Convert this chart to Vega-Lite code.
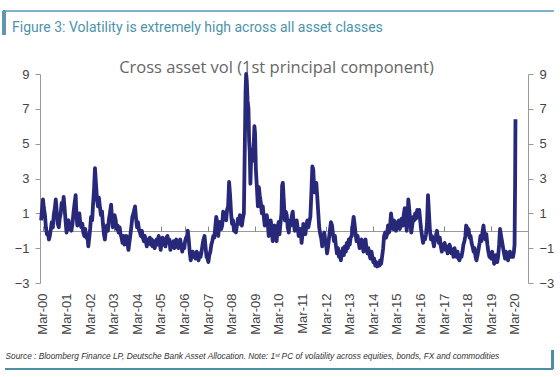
{
  "$schema": "https://vega.github.io/schema/vega-lite/v6.json",
  "width": 488,
  "height": 209,
  "autosize": {"type": "none"},
  "padding": {"left": 40, "top": 74, "right": 32, "bottom": 94},
  "background": "white",
  "title": {
    "text": "Figure 3: Volatility is extremely high across all asset classes",
    "anchor": "start",
    "frame": "group",
    "dx": -28,
    "dy": 29.5,
    "font": "Roboto",
    "fontSize": 14,
    "fontWeight": "normal",
    "color": "#4d93ab"
  },
  "config": {
    "view": {"stroke": null},
    "axis": {"labelFont": "Liberation Sans", "titleFont": "Liberation Sans"}
  },
  "data": {"values": [
    {"date":"2000-02-01","v":0.6},{"date":"2000-02-15","v":1.2},{"date":"2000-03-01","v":1.8},{"date":"2000-03-15","v":1.3},
    {"date":"2000-04-01","v":0.9},{"date":"2000-04-15","v":0.2},{"date":"2000-05-01","v":-0.2},{"date":"2000-05-15","v":-0.1},
    {"date":"2000-06-01","v":-0.5},{"date":"2000-06-15","v":-0.3},{"date":"2000-07-01","v":0.1},{"date":"2000-07-15","v":0.5},
    {"date":"2000-08-01","v":0.2},{"date":"2000-08-15","v":0.9},{"date":"2000-09-01","v":1.3},{"date":"2000-09-15","v":1.8},
    {"date":"2000-10-01","v":1.1},{"date":"2000-10-15","v":0.4},{"date":"2000-11-01","v":0.2},{"date":"2000-11-15","v":0.7},
    {"date":"2000-12-01","v":1.0},{"date":"2000-12-15","v":1.6},{"date":"2001-01-01","v":1.3},{"date":"2001-01-15","v":1.95},
    {"date":"2001-02-01","v":1.2},{"date":"2001-02-15","v":0.5},{"date":"2001-03-01","v":-0.1},{"date":"2001-03-15","v":0.3},
    {"date":"2001-04-01","v":0.6},{"date":"2001-04-15","v":0.1},{"date":"2001-05-01","v":0.3},{"date":"2001-05-15","v":0.0},
    {"date":"2001-06-01","v":0.4},{"date":"2001-06-15","v":1.0},{"date":"2001-07-01","v":1.5},{"date":"2001-07-20","v":2.05},
    {"date":"2001-08-01","v":0.9},{"date":"2001-08-15","v":0.3},{"date":"2001-09-01","v":0.8},{"date":"2001-09-15","v":1.0},
    {"date":"2001-10-01","v":0.4},{"date":"2001-10-15","v":0.2},{"date":"2001-11-01","v":0.4},{"date":"2001-11-15","v":-0.1},
    {"date":"2001-12-01","v":-0.3},{"date":"2001-12-15","v":0.1},{"date":"2002-01-01","v":-0.4},{"date":"2002-01-15","v":-0.2},
    {"date":"2002-02-01","v":-0.9},{"date":"2002-02-15","v":-0.4},{"date":"2002-03-01","v":0.1},{"date":"2002-03-15","v":0.8},
    {"date":"2002-04-01","v":0.6},{"date":"2002-04-15","v":1.5},{"date":"2002-05-01","v":2.4},{"date":"2002-05-15","v":3.6},
    {"date":"2002-06-01","v":2.6},{"date":"2002-06-15","v":1.8},{"date":"2002-07-01","v":1.4},{"date":"2002-07-15","v":1.9},
    {"date":"2002-08-01","v":1.3},{"date":"2002-08-15","v":0.9},{"date":"2002-09-01","v":1.1},{"date":"2002-09-15","v":0.4},
    {"date":"2002-10-01","v":-0.2},{"date":"2002-10-15","v":-0.5},{"date":"2002-11-01","v":0.1},{"date":"2002-11-15","v":0.3},
    {"date":"2002-12-01","v":0.0},{"date":"2002-12-15","v":0.6},{"date":"2003-01-01","v":1.0},{"date":"2003-01-20","v":1.5},
    {"date":"2003-02-01","v":0.8},{"date":"2003-02-15","v":0.2},{"date":"2003-03-01","v":0.5},{"date":"2003-03-15","v":0.9},
    {"date":"2003-04-01","v":0.6},{"date":"2003-04-15","v":0.1},{"date":"2003-05-01","v":0.3},{"date":"2003-05-15","v":-0.1},
    {"date":"2003-06-01","v":0.2},{"date":"2003-06-15","v":-0.2},{"date":"2003-07-01","v":-0.4},{"date":"2003-07-15","v":-0.7},
    {"date":"2003-08-01","v":-0.3},{"date":"2003-08-15","v":-0.8},{"date":"2003-09-01","v":-0.5},{"date":"2003-09-15","v":-0.3},
    {"date":"2003-10-01","v":-0.7},{"date":"2003-10-15","v":-1.1},{"date":"2003-11-01","v":-0.6},{"date":"2003-11-15","v":-0.2},
    {"date":"2003-12-01","v":0.3},{"date":"2003-12-15","v":0.8},{"date":"2004-01-01","v":1.0},{"date":"2004-01-25","v":1.4},
    {"date":"2004-02-10","v":0.7},{"date":"2004-02-25","v":0.2},{"date":"2004-03-10","v":0.5},{"date":"2004-03-25","v":0.1},
    {"date":"2004-04-10","v":-0.1},{"date":"2004-04-25","v":-0.3},{"date":"2004-05-10","v":0.0},{"date":"2004-05-25","v":-0.4},
    {"date":"2004-06-10","v":-0.6},{"date":"2004-06-25","v":-0.3},{"date":"2004-07-10","v":-0.6},{"date":"2004-07-25","v":-0.9},
    {"date":"2004-08-10","v":-0.5},{"date":"2004-08-25","v":-0.7},{"date":"2004-09-10","v":-0.4},{"date":"2004-09-25","v":-0.8},
    {"date":"2004-10-10","v":-0.5},{"date":"2004-10-25","v":-0.9},{"date":"2004-11-10","v":-0.6},{"date":"2004-11-25","v":-1.0},
    {"date":"2004-12-10","v":-0.7},{"date":"2004-12-25","v":-0.5},{"date":"2005-01-10","v":-0.8},{"date":"2005-01-25","v":-0.3},
    {"date":"2005-02-10","v":-0.6},{"date":"2005-02-25","v":-1.1},{"date":"2005-03-10","v":-0.7},{"date":"2005-03-25","v":-0.4},
    {"date":"2005-04-10","v":-0.8},{"date":"2005-04-25","v":-0.5},{"date":"2005-05-10","v":-0.9},{"date":"2005-05-25","v":-0.4},
    {"date":"2005-06-10","v":-0.3},{"date":"2005-06-25","v":-0.7},{"date":"2005-07-10","v":-0.5},{"date":"2005-07-25","v":-1.1},
    {"date":"2005-08-10","v":-0.7},{"date":"2005-08-25","v":-0.9},{"date":"2005-09-10","v":-0.6},{"date":"2005-09-25","v":-1.0},
    {"date":"2005-10-10","v":-0.7},{"date":"2005-10-25","v":-0.5},{"date":"2005-11-10","v":-0.9},{"date":"2005-11-25","v":-1.0},
    {"date":"2005-12-10","v":-0.7},{"date":"2005-12-25","v":-0.5},{"date":"2006-01-10","v":-0.9},{"date":"2006-01-25","v":-1.2},
    {"date":"2006-02-10","v":-0.8},{"date":"2006-02-25","v":-1.0},{"date":"2006-03-10","v":-0.6},{"date":"2006-03-25","v":-0.4},
    {"date":"2006-04-10","v":-0.3},{"date":"2006-04-20","v":0.0},{"date":"2006-05-05","v":-0.5},{"date":"2006-05-20","v":-1.2},
    {"date":"2006-06-05","v":-1.7},{"date":"2006-06-20","v":-1.4},{"date":"2006-07-05","v":-1.2},{"date":"2006-07-20","v":-1.5},
    {"date":"2006-08-05","v":-1.3},{"date":"2006-08-20","v":-1.6},{"date":"2006-09-05","v":-1.2},{"date":"2006-09-20","v":-1.4},
    {"date":"2006-10-05","v":-1.7},{"date":"2006-10-20","v":-1.3},{"date":"2006-11-05","v":-1.5},{"date":"2006-11-20","v":-1.2},
    {"date":"2006-12-05","v":-0.8},{"date":"2006-12-20","v":-0.5},{"date":"2007-01-05","v":-0.3},{"date":"2007-01-20","v":-0.9},
    {"date":"2007-02-05","v":-1.5},{"date":"2007-02-20","v":-1.6},{"date":"2007-03-05","v":-1.8},{"date":"2007-03-20","v":-1.4},
    {"date":"2007-04-05","v":-1.2},{"date":"2007-04-20","v":-0.8},{"date":"2007-05-05","v":-0.6},{"date":"2007-05-20","v":-0.3},
    {"date":"2007-06-05","v":-0.4},{"date":"2007-06-20","v":0.2},{"date":"2007-07-05","v":0.8},{"date":"2007-07-20","v":0.5},
    {"date":"2007-08-05","v":-0.3},{"date":"2007-08-20","v":0.3},{"date":"2007-09-05","v":0.5},{"date":"2007-09-20","v":0.1},
    {"date":"2007-10-05","v":0.3},{"date":"2007-10-20","v":1.1},{"date":"2007-11-05","v":0.8},{"date":"2007-11-20","v":1.0},
    {"date":"2007-12-05","v":0.6},{"date":"2007-12-20","v":1.2},{"date":"2008-01-05","v":1.4},{"date":"2008-01-20","v":2.8},
    {"date":"2008-02-05","v":2.0},{"date":"2008-02-20","v":1.0},{"date":"2008-03-05","v":0.4},{"date":"2008-03-20","v":0.6},
    {"date":"2008-04-05","v":0.0},{"date":"2008-04-20","v":0.2},{"date":"2008-05-05","v":-0.1},{"date":"2008-05-20","v":0.3},
    {"date":"2008-06-05","v":0.7},{"date":"2008-06-20","v":0.4},{"date":"2008-07-05","v":0.9},{"date":"2008-07-20","v":0.6},
    {"date":"2008-08-05","v":0.3},{"date":"2008-08-20","v":0.7},{"date":"2008-09-05","v":1.0},{"date":"2008-09-18","v":4.5},
    {"date":"2008-10-01","v":8.0},{"date":"2008-10-10","v":9.0},{"date":"2008-10-20","v":8.6},{"date":"2008-11-01","v":7.5},
    {"date":"2008-11-15","v":7.0},{"date":"2008-11-25","v":5.2},{"date":"2008-12-05","v":4.5},{"date":"2008-12-15","v":2.7},
    {"date":"2008-12-25","v":4.0},{"date":"2009-01-05","v":4.65},{"date":"2009-01-15","v":4.0},{"date":"2009-01-25","v":4.3},
    {"date":"2009-02-05","v":5.0},{"date":"2009-02-15","v":6.0},{"date":"2009-02-25","v":5.6},{"date":"2009-03-10","v":3.5},
    {"date":"2009-03-25","v":2.5},{"date":"2009-04-10","v":1.4},{"date":"2009-04-25","v":2.5},{"date":"2009-05-10","v":2.0},
    {"date":"2009-05-25","v":1.6},{"date":"2009-06-10","v":1.0},{"date":"2009-06-25","v":1.4},{"date":"2009-07-10","v":0.8},
    {"date":"2009-07-25","v":0.3},{"date":"2009-08-10","v":0.6},{"date":"2009-08-25","v":0.9},{"date":"2009-09-10","v":0.4},
    {"date":"2009-09-25","v":-0.3},{"date":"2009-10-10","v":0.2},{"date":"2009-10-25","v":0.6},{"date":"2009-11-10","v":0.1},
    {"date":"2009-11-25","v":-0.6},{"date":"2009-12-10","v":-0.2},{"date":"2009-12-25","v":0.3},{"date":"2010-01-10","v":-0.4},
    {"date":"2010-01-25","v":-0.6},{"date":"2010-02-10","v":0.2},{"date":"2010-02-25","v":0.5},{"date":"2010-03-10","v":-0.2},
    {"date":"2010-03-25","v":0.4},{"date":"2010-04-10","v":1.0},{"date":"2010-04-20","v":2.6},{"date":"2010-05-01","v":2.75},
    {"date":"2010-05-15","v":1.8},{"date":"2010-06-01","v":0.6},{"date":"2010-06-15","v":1.1},{"date":"2010-07-01","v":0.9},
    {"date":"2010-07-15","v":0.2},{"date":"2010-08-01","v":-0.1},{"date":"2010-08-15","v":0.6},{"date":"2010-09-01","v":0.3},
    {"date":"2010-09-15","v":0.8},{"date":"2010-10-01","v":1.1},{"date":"2010-10-15","v":0.5},{"date":"2010-11-01","v":0.0},
    {"date":"2010-11-15","v":0.3},{"date":"2010-12-01","v":0.6},{"date":"2010-12-15","v":0.2},{"date":"2011-01-01","v":-0.3},
    {"date":"2011-01-15","v":-0.1},{"date":"2011-02-01","v":0.1},{"date":"2011-02-15","v":-0.7},{"date":"2011-03-01","v":-0.2},
    {"date":"2011-03-15","v":0.4},{"date":"2011-04-01","v":0.1},{"date":"2011-04-15","v":-0.2},{"date":"2011-05-01","v":0.3},
    {"date":"2011-05-15","v":0.6},{"date":"2011-06-01","v":0.2},{"date":"2011-06-15","v":0.5},{"date":"2011-07-01","v":0.8},
    {"date":"2011-07-15","v":2.0},{"date":"2011-08-01","v":3.7},{"date":"2011-08-15","v":3.5},{"date":"2011-09-01","v":2.2},
    {"date":"2011-09-15","v":2.3},{"date":"2011-10-01","v":2.75},{"date":"2011-10-15","v":2.0},{"date":"2011-11-01","v":1.0},
    {"date":"2011-11-15","v":0.2},{"date":"2011-12-01","v":-0.2},{"date":"2011-12-15","v":-0.4},{"date":"2012-01-01","v":-0.9},
    {"date":"2012-01-15","v":-0.4},{"date":"2012-02-01","v":-0.1},{"date":"2012-02-15","v":-0.5},{"date":"2012-03-01","v":-0.8},
    {"date":"2012-03-15","v":-1.3},{"date":"2012-04-01","v":-0.9},{"date":"2012-04-15","v":-0.4},{"date":"2012-05-01","v":0.1},
    {"date":"2012-05-15","v":0.5},{"date":"2012-06-01","v":0.3},{"date":"2012-06-15","v":-0.2},{"date":"2012-07-01","v":-0.6},
    {"date":"2012-07-15","v":-0.3},{"date":"2012-08-01","v":-0.9},{"date":"2012-08-15","v":-1.3},{"date":"2012-09-01","v":-1.0},
    {"date":"2012-09-15","v":-1.5},{"date":"2012-10-01","v":-1.2},{"date":"2012-10-15","v":-1.7},{"date":"2012-11-01","v":-1.3},
    {"date":"2012-11-15","v":-1.0},{"date":"2012-12-01","v":-1.4},{"date":"2012-12-15","v":-0.9},{"date":"2013-01-01","v":-1.2},
    {"date":"2013-01-15","v":-0.7},{"date":"2013-02-01","v":-1.0},{"date":"2013-02-15","v":-0.5},{"date":"2013-03-01","v":-0.8},
    {"date":"2013-03-15","v":-0.4},{"date":"2013-04-01","v":-0.3},{"date":"2013-04-15","v":0.3},{"date":"2013-05-01","v":0.8},
    {"date":"2013-05-15","v":0.4},{"date":"2013-06-01","v":-0.2},{"date":"2013-06-15","v":-0.6},{"date":"2013-07-01","v":-0.3},
    {"date":"2013-07-15","v":-0.6},{"date":"2013-08-01","v":-1.0},{"date":"2013-08-15","v":-0.7},{"date":"2013-09-01","v":-0.5},
    {"date":"2013-09-15","v":-0.9},{"date":"2013-10-01","v":-1.2},{"date":"2013-10-15","v":-0.7},{"date":"2013-11-01","v":-0.5},
    {"date":"2013-11-15","v":-1.0},{"date":"2013-12-01","v":-1.3},{"date":"2013-12-15","v":-1.0},{"date":"2014-01-01","v":-1.4},
    {"date":"2014-01-15","v":-1.6},{"date":"2014-02-01","v":-1.2},{"date":"2014-02-15","v":-1.5},{"date":"2014-03-01","v":-1.8},
    {"date":"2014-03-15","v":-1.6},{"date":"2014-04-01","v":-2.0},{"date":"2014-04-15","v":-1.8},{"date":"2014-05-01","v":-2.05},
    {"date":"2014-05-15","v":-1.9},{"date":"2014-06-01","v":-2.0},{"date":"2014-06-15","v":-1.7},{"date":"2014-07-01","v":-1.9},
    {"date":"2014-07-15","v":-1.5},{"date":"2014-08-01","v":-1.0},{"date":"2014-08-15","v":-0.3},{"date":"2014-09-01","v":-0.1},
    {"date":"2014-09-15","v":-0.4},{"date":"2014-10-01","v":-0.2},{"date":"2014-10-15","v":0.3},{"date":"2014-11-01","v":-0.1},
    {"date":"2014-11-15","v":0.2},{"date":"2014-12-01","v":1.0},{"date":"2014-12-15","v":0.5},{"date":"2015-01-01","v":0.1},
    {"date":"2015-01-15","v":0.6},{"date":"2015-02-01","v":0.3},{"date":"2015-02-15","v":0.0},{"date":"2015-03-01","v":0.5},
    {"date":"2015-03-15","v":0.2},{"date":"2015-04-01","v":0.6},{"date":"2015-04-15","v":0.1},{"date":"2015-05-01","v":0.4},
    {"date":"2015-05-15","v":0.7},{"date":"2015-06-01","v":0.3},{"date":"2015-06-15","v":0.9},{"date":"2015-07-01","v":1.3},
    {"date":"2015-07-15","v":0.7},{"date":"2015-08-01","v":0.0},{"date":"2015-08-15","v":0.8},{"date":"2015-08-25","v":1.8},
    {"date":"2015-09-10","v":1.2},{"date":"2015-09-25","v":0.5},{"date":"2015-10-10","v":-0.1},{"date":"2015-10-25","v":0.3},
    {"date":"2015-11-10","v":0.8},{"date":"2015-11-25","v":0.6},{"date":"2015-12-10","v":1.0},{"date":"2015-12-25","v":0.7},
    {"date":"2016-01-10","v":1.2},{"date":"2016-01-25","v":0.9},{"date":"2016-02-10","v":1.2},{"date":"2016-02-25","v":0.6},
    {"date":"2016-03-10","v":0.1},{"date":"2016-03-25","v":-0.3},{"date":"2016-04-10","v":-0.7},{"date":"2016-04-25","v":-0.4},
    {"date":"2016-05-10","v":-0.5},{"date":"2016-05-25","v":-0.2},{"date":"2016-06-10","v":0.4},{"date":"2016-06-25","v":2.05},
    {"date":"2016-07-10","v":1.0},{"date":"2016-07-25","v":0.0},{"date":"2016-08-10","v":-0.5},{"date":"2016-08-25","v":-0.3},
    {"date":"2016-09-10","v":-0.6},{"date":"2016-09-25","v":-0.9},{"date":"2016-10-10","v":-0.5},{"date":"2016-10-25","v":-0.3},
    {"date":"2016-11-10","v":0.0},{"date":"2016-11-25","v":-0.4},{"date":"2016-12-10","v":-0.7},{"date":"2016-12-25","v":-0.4},
    {"date":"2017-01-10","v":-0.9},{"date":"2017-01-25","v":-1.2},{"date":"2017-02-10","v":-0.8},{"date":"2017-02-25","v":-1.0},
    {"date":"2017-03-10","v":-0.7},{"date":"2017-03-25","v":-1.1},{"date":"2017-04-10","v":-0.9},{"date":"2017-04-25","v":-1.3},
    {"date":"2017-05-10","v":-1.2},{"date":"2017-05-25","v":-0.8},{"date":"2017-06-10","v":-1.0},{"date":"2017-06-25","v":-1.3},
    {"date":"2017-07-10","v":-1.1},{"date":"2017-07-25","v":-1.5},{"date":"2017-08-10","v":-1.0},{"date":"2017-08-25","v":-1.3},
    {"date":"2017-09-10","v":-1.5},{"date":"2017-09-25","v":-1.2},{"date":"2017-10-10","v":-1.6},{"date":"2017-10-25","v":-1.7},
    {"date":"2017-11-10","v":-1.4},{"date":"2017-11-25","v":-1.5},{"date":"2017-12-10","v":-1.2},{"date":"2017-12-25","v":-0.8},
    {"date":"2018-01-10","v":-0.6},{"date":"2018-01-25","v":-0.3},{"date":"2018-02-05","v":0.3},{"date":"2018-02-15","v":0.2},
    {"date":"2018-03-01","v":-0.2},{"date":"2018-03-15","v":0.1},{"date":"2018-04-01","v":-0.4},{"date":"2018-04-15","v":-0.3},
    {"date":"2018-05-01","v":-0.7},{"date":"2018-05-15","v":-0.9},{"date":"2018-06-01","v":-1.2},{"date":"2018-06-15","v":-1.0},
    {"date":"2018-07-01","v":-1.5},{"date":"2018-07-15","v":-1.7},{"date":"2018-08-01","v":-1.4},{"date":"2018-08-15","v":-1.1},
    {"date":"2018-09-01","v":-0.7},{"date":"2018-09-15","v":-0.3},{"date":"2018-10-01","v":-0.6},{"date":"2018-10-15","v":-0.1},
    {"date":"2018-11-01","v":0.3},{"date":"2018-11-15","v":-0.2},{"date":"2018-12-01","v":-0.5},{"date":"2018-12-15","v":-0.2},
    {"date":"2019-01-01","v":-0.8},{"date":"2019-01-15","v":-1.2},{"date":"2019-02-01","v":-1.5},{"date":"2019-02-15","v":-1.3},
    {"date":"2019-03-01","v":-1.6},{"date":"2019-03-15","v":-1.2},{"date":"2019-04-01","v":-1.5},{"date":"2019-04-15","v":-1.9},
    {"date":"2019-05-01","v":-1.6},{"date":"2019-05-15","v":-1.4},{"date":"2019-06-01","v":-1.8},{"date":"2019-06-15","v":-1.5},
    {"date":"2019-07-01","v":-0.8},{"date":"2019-07-15","v":0.1},{"date":"2019-08-01","v":-0.3},{"date":"2019-08-15","v":-0.6},
    {"date":"2019-09-01","v":-1.0},{"date":"2019-09-15","v":-1.3},{"date":"2019-10-01","v":-1.6},{"date":"2019-10-15","v":-1.2},
    {"date":"2019-11-01","v":-1.5},{"date":"2019-11-15","v":-1.7},{"date":"2019-12-01","v":-1.4},{"date":"2019-12-15","v":-1.2},
    {"date":"2020-01-01","v":-1.5},{"date":"2020-01-15","v":-1.3},{"date":"2020-02-01","v":-1.5},{"date":"2020-02-15","v":-1.2},
    {"date":"2020-02-25","v":-0.8},{"date":"2020-03-05","v":3.0},{"date":"2020-03-10","v":6.4}
  ]},
  "resolve": {"axis": {"x": "independent", "y": "independent"}},
  "layer": [
    {
      "mark": {"type": "line", "opacity": 0},
      "encoding": {
        "x": {
          "field": "date", "type": "temporal",
          "scale": {"domain": ["2000-01-15", "2020-09-20"]},
          "axis": {
            "orient": "top", "offset": -157, "labels": false, "domain": false,
            "ticks": true, "tickSize": 5, "tickColor": "#888888", "tickWidth": 1,
            "grid": false,
            "values": ["2000-03-01","2001-03-01","2002-03-01","2003-03-01","2004-03-01","2005-03-01","2006-03-01","2007-03-01","2008-03-01","2009-03-01","2010-03-01","2011-03-01","2012-03-01","2013-03-01","2014-03-01","2015-03-01","2016-03-01","2017-03-01","2018-03-01","2019-03-01","2020-03-01"],
            "title": "Cross asset vol (1st principal component)",
            "titleFont": "Open Sans", "titleFontSize": 16.5, "titleFontWeight": "normal",
            "titleColor": "#666666", "titleBaseline": "alphabetic", "titleY": -159, "titleX": 236, "titleAnchor": "middle"
          }
        },
        "y": {
          "field": "v", "type": "quantitative",
          "scale": {"domain": [-3, 9], "nice": false, "zero": false},
          "axis": {
            "orient": "right", "title": null, "values": [-3, -1, 0, 1, 3, 5, 7, 9],
            "labelExpr": "datum.value === 0 ? '' : datum.label",
            "labelFontSize": 13, "labelColor": "#444444", "labelPadding": 6,
            "tickSize": 5, "tickColor": "#999999", "domainColor": "#999999",
            "tickOpacity": {"condition": {"test": "datum.value === 0", "value": 0}, "value": 1},
            "grid": true, "gridColor": "#999999", "gridWidth": 1,
            "gridOpacity": {"condition": {"test": "datum.value === 0", "value": 1}, "value": 0}
          }
        }
      }
    },
    {
      "mark": {"type": "line", "color": "#28287a", "strokeWidth": 3.8, "strokeJoin": "round"},
      "encoding": {
        "x": {
          "field": "date", "type": "temporal",
          "axis": {
            "orient": "bottom", "domain": false, "ticks": false, "grid": false,
            "values": ["2000-03-01","2001-03-01","2002-03-01","2003-03-01","2004-03-01","2005-03-01","2006-03-01","2007-03-01","2008-03-01","2009-03-01","2010-03-01","2011-03-01","2012-03-01","2013-03-01","2014-03-01","2015-03-01","2016-03-01","2017-03-01","2018-03-01","2019-03-01","2020-03-01"],
            "format": "%b-%y", "labelAngle": -90, "labelFontSize": 13, "labelColor": "#444444",
            "labelPadding": 10, "labelOverlap": false, "labelFlush": false,
            "title": "Source : Bloomberg Finance LP, Deutsche Bank Asset Allocation. Note: 1ˢᵗ PC of volatility across equities, bonds, FX and commodities",
            "titleFont": "Liberation Sans", "titleFontSize": 8.3, "titleFontStyle": "italic", "titleFontWeight": "normal",
            "titleColor": "#333333", "titleAnchor": "start", "titleAlign": "left", "titleX": -35, "titleY": 75, "titleBaseline": "alphabetic"
          }
        },
        "y": {
          "field": "v", "type": "quantitative",
          "axis": {
            "orient": "left", "title": null, "values": [-3, -1, 1, 3, 5, 7, 9], "grid": false,
            "labelFontSize": 13, "labelColor": "#444444", "labelPadding": 6,
            "tickSize": 5, "tickColor": "#999999", "domainColor": "#999999"
          }
        }
      }
    },
    {
      "mark": {"type": "rule", "color": "#7fb2c5", "strokeWidth": 1.5, "clip": false},
      "encoding": {
        "x": {"datum": {"year": 1998, "month": 7, "date": 8}, "type": "temporal", "axis": null},
        "x2": {"datum": {"year": 2021, "month": 10, "date": 13}},
        "y": {"datum": 12.62, "type": "quantitative", "axis": null}
      }
    },
    {
      "mark": {"type": "rule", "color": "#5f97ab", "strokeWidth": 2.5, "clip": false},
      "encoding": {
        "x": {"datum": {"year": 1998, "month": 7, "date": 8}, "type": "temporal", "axis": null},
        "y": {"datum": 12.62, "type": "quantitative", "axis": null},
        "y2": {"datum": 11.24}
      }
    },
    {
      "mark": {"type": "rule", "color": "#4e8fa7", "strokeWidth": 2, "clip": false},
      "encoding": {
        "x": {"datum": {"year": 1998, "month": 7, "date": 24}, "type": "temporal", "axis": null},
        "x2": {"datum": {"year": 2021, "month": 9, "date": 28}},
        "y": {"datum": -7.94, "type": "quantitative", "axis": null}
      }
    },
    {
      "mark": {"type": "rule", "color": "#4e8fa7", "strokeWidth": 2, "clip": false},
      "encoding": {
        "x": {"datum": {"year": 2021, "month": 9, "date": 28}, "type": "temporal", "axis": null},
        "y": {"datum": -6.85, "type": "quantitative", "axis": null},
        "y2": {"datum": -7.94}
      }
    }
  ]
}
